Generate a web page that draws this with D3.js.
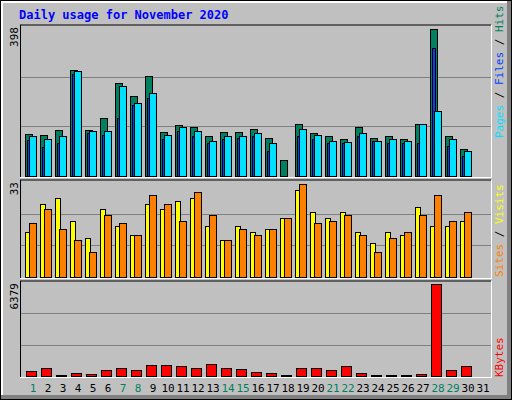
<!DOCTYPE html>
<html>
<head>
<meta charset="utf-8">
<script src="https://cdn.jsdelivr.net/npm/d3@7"></script>
<style>body{margin:0;background:#fff}</style>
</head>
<body>
<div id="chart"></div>
<script>
const days = d3.range(1, 32);
const weekend = [1, 7, 8, 14, 15, 21, 22, 28, 29];
const hits  = [114,110,124,287,124,156,251,216,272,118,137,134,107,118,118,126,102,42,140,116,107,99,134,104,107,99,142,398,107,72,0];
const files = [97,78,89,276,116,111,156,191,210,100,121,107,89,99,102,107,67,0,107,99,89,89,107,94,89,89,89,346,82,53,0];
const pages = [108,99,107,284,121,121,245,199,226,110,134,121,96,107,107,116,89,0,126,110,96,91,116,96,99,96,142,177,99,67,0];
const sites  = [16,26,28,20,14,24,18,15,26,24,27,28,18,13,18,16,17,21,31,23,21,23,16,12,16,15,25,18,18,20,0];
const visits = [19,24,17,13,9,22,19,15,29,26,20,30,22,13,17,15,17,21,33,19,20,22,15,9,14,16,22,29,20,23,0];
const kbytes = [350,560,50,210,140,420,560,420,770,770,700,560,840,560,490,280,210,50,560,560,420,700,210,40,40,40,140,6379,420,700,0];

const W = 512, H = 400;
const svg = d3.select("#chart").append("svg").attr("width", W).attr("height", H)
  .style("font-family", "'DejaVu Sans Mono', monospace");

// outer frame
svg.append("rect").attr("width", W).attr("height", H).attr("fill", "#000");
svg.append("rect").attr("x", 1).attr("y", 1).attr("width", W - 2).attr("height", H - 2).attr("fill", "#808080");
svg.append("rect").attr("x", 1).attr("y", 1).attr("width", W - 6).attr("height", H - 6).attr("fill", "#fff");
svg.append("rect").attr("x", 3).attr("y", 3).attr("width", W - 8).attr("height", H - 8).attr("fill", "#c0c0c0");

svg.append("text").attr("x", 19).attr("y", 19).attr("fill", "#0000ff")
  .attr("font-size", 12).attr("font-weight", "bold").text("Daily usage for November 2020");

const x = d3.scaleBand().domain(days).range([25, 490]).padding(0);

const panels = [
  { top: 25, bottom: 177, max: 398, scaleTop: 29 },
  { top: 180, bottom: 278, max: 33, scaleTop: 184 },
  { top: 281, bottom: 377, max: 6379, scaleTop: 284 }
];

panels.forEach(p => {
  p.y = d3.scaleLinear().domain([0, p.max]).range([p.bottom - 1, p.scaleTop]);
  const g = svg.append("g");
  g.append("line").attr("x1", 20).attr("x2", 491).attr("y1", p.top).attr("y2", p.top).attr("stroke", "#000");
  g.append("line").attr("x1", 20.5).attr("x2", 20.5).attr("y1", p.top).attr("y2", p.bottom).attr("stroke", "#000");
  g.append("line").attr("x1", 20).attr("x2", 492).attr("y1", p.bottom + 0.5).attr("y2", p.bottom + 0.5).attr("stroke", "#fff");
  g.append("line").attr("x1", 491.5).attr("x2", 491.5).attr("y1", p.top).attr("y2", p.bottom + 1).attr("stroke", "#fff");
  const h = p.bottom - p.top;
  [1, 2].forEach(k => {
    const yy = Math.round(p.bottom - 1 - (p.bottom - 1 - p.scaleTop + 2) * k / 3) + 0.5;
    g.append("line").attr("x1", 21).attr("x2", 491).attr("y1", yy).attr("y2", yy).attr("stroke", "#808080");
  });
  g.append("text").attr("transform", `translate(18,${p.top + 2}) rotate(-90)`)
    .attr("text-anchor", "end").attr("font-size", 11).attr("fill", "#000").text(p.max);
});

function bars(p, values, dx, w, color) {
  svg.append("g").selectAll("rect").data(days.filter((d, i) => values[i] > 0)).join("rect")
    .attr("x", d => x(d) + dx + 0.5)
    .attr("y", d => Math.round(p.y(values[d - 1])) + 0.5)
    .attr("width", w)
    .attr("height", d => Math.max(0, p.bottom - 1 - Math.round(p.y(values[d - 1]))))
    .attr("fill", color).attr("stroke", "#000");
}

bars(panels[0], hits, 0, 7, "#008060");
bars(panels[0], files, 2, 3, "#0040ff");
bars(panels[0], pages, 4, 7, "#00e0ff");
bars(panels[1], sites, 0, 5, "#ffff00");
bars(panels[1], visits, 4, 7, "#ff8000");
bars(panels[2], kbytes, 1, 10, "#ff0000");

svg.append("g").selectAll("text").data(days).join("text")
  .attr("x", d => x(d) + 8).attr("y", 392).attr("text-anchor", "middle")
  .attr("font-size", 11)
  .attr("fill", d => weekend.includes(d) ? "#008060" : "#000")
  .text(d => d);

function sideLabel(yBottom, parts) {
  const t = svg.append("text").attr("transform", `translate(503,${yBottom}) rotate(-90)`)
    .attr("font-size", 11);
  parts.forEach(([s, c]) => t.append("tspan").attr("fill", c).text(s));
}
sideLabel(138, [["Pages", "#00e0ff"], [" / ", "#000"], ["Files", "#0040ff"], [" / ", "#000"], ["Hits", "#008060"]]);
sideLabel(277, [["Sites", "#ff8000"], [" / ", "#000"], ["Visits", "#ffff00"]]);
sideLabel(377, [["KBytes", "#ff0000"]]);
</script>
</body>
</html>
